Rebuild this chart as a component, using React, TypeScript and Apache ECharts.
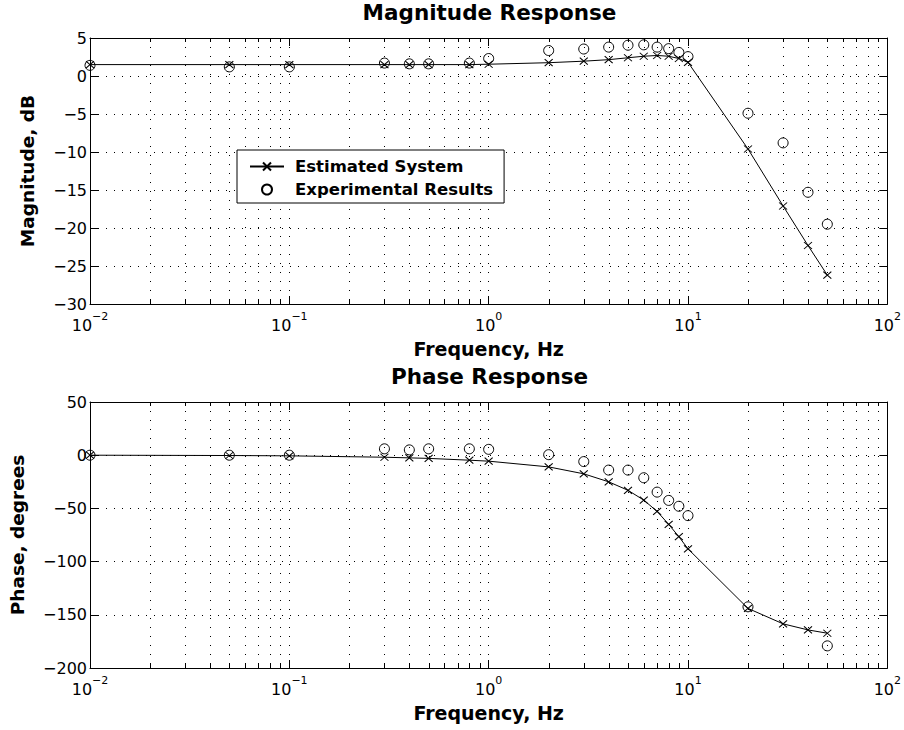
import React, { useEffect, useRef } from 'react';
import * as echarts from 'echarts';

// Frequencies (Hz) at which the system was evaluated / measured
const freqs = [0.01, 0.05, 0.1, 0.3, 0.4, 0.5, 0.8, 1, 2, 3, 4, 5, 6, 7, 8, 9, 10, 20, 30, 40, 50];

// Magnitude response, dB
const estMag = [1.5, 1.5, 1.5, 1.5, 1.5, 1.5, 1.5, 1.55, 1.75, 1.95, 2.15, 2.4, 2.6, 2.7, 2.6, 2.3, 1.8, -9.6, -17.1, -22.3, -26.2];
const expMag = [1.4, 1.2, 1.2, 1.7, 1.6, 1.6, 1.7, 2.3, 3.35, 3.55, 3.8, 4.05, 4.1, 3.8, 3.6, 3.1, 2.55, -4.9, -8.8, -15.3, -19.5];

// Phase response, degrees
const estPhase = [0, -0.3, -0.6, -1.9, -2.5, -3, -4.7, -5.6, -11, -17.5, -25, -33, -42.2, -52.8, -65, -76.6, -88, -144, -158.5, -164.2, -167.3];
const expPhase: (number | null)[] = [0, 0, 0, 6, 5, 6, 6, 5.5, 0.5, -6, -14, -14, -21.2, -34.7, -42.5, -48, -56.8, -142.5, null, null, -179.2];

// Axes
const xMin = 0.01;
const xMax = 100;
const decades = [0.01, 0.1, 1, 10];
const minorMultipliers = [2, 3, 4, 5, 6, 7, 8, 9];
const magRange = { min: -30, max: 5, interval: 5 };
const phaseRange = { min: -200, max: 50, interval: 50 };

const titles = ['Magnitude Response', 'Phase Response'];
const xName = 'Frequency, Hz';
const yNames = ['Magnitude, dB', 'Phase, degrees'];
const seriesNames = ['Estimated System', 'Experimental Results'];

const FONT = "'DejaVu Sans', 'Liberation Sans', sans-serif";
const X_SYMBOL = 'path://M0,0L8,7M8,0L0,7';

const minorFreqs: number[] = [];
decades.forEach((d) => minorMultipliers.forEach((m) => minorFreqs.push(Number((d * m).toPrecision(3)))));

const pairs = (ys: (number | null)[]) =>
  freqs.map((f, i) => [f, ys[i]]).filter((p) => p[1] !== null && p[1] !== undefined);

const GRID_LEFT = 90;
const GRID_W = 799;
const GRID_H = 266;
const GRID_TOPS = [38, 402];

function buildOption() {
  const grids = GRID_TOPS.map((t) => ({ left: GRID_LEFT, top: t, width: GRID_W, height: GRID_H }));
  const xAxes: any[] = [];
  const yAxes: any[] = [];
  const series: any[] = [];
  const ranges = [magRange, phaseRange];
  const nameGaps = [53, 63];
  const estData = [estMag, estPhase];
  const expData = [expMag, expPhase];

  ranges.forEach((r, g) => {
    xAxes.push({
      type: 'log',
      logBase: 10,
      gridIndex: g,
      min: xMin,
      max: xMax,
      position: 'bottom',
      axisLine: { show: true, onZero: false, lineStyle: { color: '#000', width: 1 } },
      axisTick: { show: true, inside: true, length: 8, lineStyle: { color: '#000', width: 1 } },
      axisLabel: {
        margin: 7,
        color: '#000',
        formatter: (v: number) => {
          const e = Math.round(Math.log10(v));
          return `{b|10}{s|${e < 0 ? '\u2212' + -e : e}}`;
        },
        rich: {
          b: { fontFamily: FONT, fontSize: 16, color: '#000', lineHeight: 22, verticalAlign: 'bottom' },
          s: { fontFamily: FONT, fontSize: 11, color: '#000', lineHeight: 22, verticalAlign: 'top' },
        },
      },
      splitLine: { show: true, lineStyle: { color: '#000', width: 1, type: [1, 8] } },
      name: xName,
      nameLocation: 'middle',
      nameGap: 35,
      nameTextStyle: { fontFamily: FONT, fontSize: 19, fontWeight: 'bold', color: '#000' },
    });
    xAxes.push({
      type: 'log',
      logBase: 10,
      gridIndex: g,
      min: xMin,
      max: xMax,
      position: 'top',
      axisLine: { show: true, onZero: false, lineStyle: { color: '#000', width: 1 } },
      axisTick: { show: true, inside: true, length: 8, lineStyle: { color: '#000', width: 1 } },
      axisLabel: { show: false },
      splitLine: { show: false },
    });
    yAxes.push({
      type: 'value',
      gridIndex: g,
      min: r.min,
      max: r.max,
      interval: r.interval,
      position: 'left',
      axisLine: { show: true, onZero: false, lineStyle: { color: '#000', width: 1 } },
      axisTick: { show: true, inside: true, length: 8, lineStyle: { color: '#000', width: 1 } },
      axisLabel: {
        margin: 3,
        color: '#000',
        fontFamily: FONT,
        fontSize: 16,
        formatter: (v: number) => String(v).replace('-', '\u2212'),
      },
      splitLine: { show: true, lineStyle: { color: '#000', width: 1, type: [1, 7] } },
      name: yNames[g],
      nameLocation: 'middle',
      nameGap: nameGaps[g],
      nameTextStyle: { fontFamily: FONT, fontSize: 18.5, fontWeight: 'bold', color: '#000' },
    });
    yAxes.push({
      type: 'value',
      gridIndex: g,
      min: r.min,
      max: r.max,
      interval: r.interval,
      position: 'right',
      axisLine: { show: true, onZero: false, lineStyle: { color: '#000', width: 1 } },
      axisTick: { show: true, inside: true, length: 8, lineStyle: { color: '#000', width: 1 } },
      axisLabel: { show: false },
      splitLine: { show: false },
    });

    const xi = g * 2;
    const yi = g * 2;
    // minor log grid lines and minor ticks
    series.push({
      type: 'custom',
      xAxisIndex: xi,
      yAxisIndex: yi,
      silent: true,
      z: 1,
      clip: false,
      data: minorFreqs.map((f) => [f, r.min]),
      renderItem: (params: any, api: any) => {
        const cs = params.coordSys;
        const x = Math.round(api.coord([api.value(0), api.value(1)])[0]) + 0.5;
        const top = cs.y;
        const bot = cs.y + cs.height;
        return {
          type: 'group',
          children: [
            { type: 'line', shape: { x1: x, y1: top, x2: x, y2: bot }, style: { stroke: '#000', lineWidth: 1, lineDash: [1, 8] } },
            { type: 'line', shape: { x1: x, y1: top, x2: x, y2: top + 4 }, style: { stroke: '#000', lineWidth: 1 } },
            { type: 'line', shape: { x1: x, y1: bot - 4, x2: x, y2: bot }, style: { stroke: '#000', lineWidth: 1 } },
          ],
        };
      },
    });
    series.push({
      name: seriesNames[0],
      type: 'line',
      xAxisIndex: xi,
      yAxisIndex: yi,
      data: pairs(estData[g]),
      symbol: X_SYMBOL,
      symbolSize: [8, 7],
      showAllSymbol: true,
      lineStyle: { color: '#000', width: 1 },
      itemStyle: { color: '#000', borderColor: '#000', borderWidth: 1 },
      z: 3,
    });
    series.push({
      name: seriesNames[1],
      type: 'scatter',
      xAxisIndex: xi,
      yAxisIndex: yi,
      data: pairs(expData[g]),
      symbol: 'circle',
      symbolSize: 10,
      itemStyle: { color: 'rgba(0,0,0,0)', borderColor: '#000', borderWidth: 1, opacity: 1 },
      z: 4,
    });
  });

  return {
    animation: false,
    backgroundColor: '#fff',
    title: titles.map((t, i) => ({
      text: t,
      left: GRID_LEFT + GRID_W / 2,
      top: i === 0 ? 1 : 365,
      textAlign: 'center',
      padding: 0,
      textStyle: { fontFamily: FONT, fontSize: 21.5, fontWeight: 'bold', color: '#000' },
    })),
    legend: {
      data: seriesNames,
      orient: 'vertical',
      left: 237,
      top: 150,
      padding: [8, 11, 5, 12],
      itemGap: 6,
      itemWidth: 34,
      itemHeight: 10,
      backgroundColor: '#fff',
      borderColor: '#000',
      borderWidth: 1,
      borderRadius: 0,
      selectedMode: false,
      textStyle: { fontFamily: FONT, fontSize: 16.5, fontWeight: 'bold', color: '#000', padding: [0, 0, 0, 6] },
    },
    grid: grids,
    xAxis: xAxes,
    yAxis: yAxes,
    series,
  };
}

export default function App() {
  const ref = useRef<HTMLDivElement>(null);
  useEffect(() => {
    document.body.style.margin = '0';
    if (!ref.current) return;
    const chart = echarts.init(ref.current, null, { renderer: 'svg' });
    chart.setOption(buildOption() as any);
    return () => chart.dispose();
  }, []);
  return <div ref={ref} style={{ width: 904, height: 730, background: '#fff' }} />;
}
